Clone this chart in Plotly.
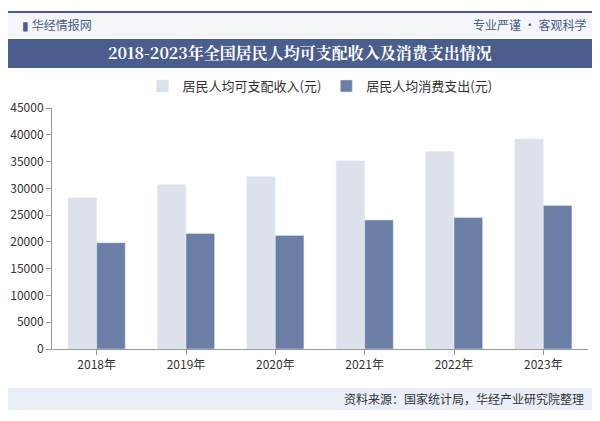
import plotly.graph_objects as go

years = ["2018年", "2019年", "2020年", "2021年", "2022年", "2023年"]
income = [28228, 30733, 32189, 35128, 36883, 39218]
consumption = [19853, 21559, 21210, 24100, 24538, 26796]

font = "Noto Sans CJK SC"
W, H = 600, 421
L, R, T, B = 52, 12, 108, 72
pw, ph = W - L - R, H - T - B


def px(x):
    return (x - L) / pw


def py(y):
    return (H - B - y) / ph


fig = go.Figure()
fig.add_bar(x=years, y=income, name="居民人均可支配收入(元)", marker_color="#dde1ec")
fig.add_bar(x=years, y=consumption, name="居民人均消费支出(元)", marker_color="#6b7fa6")


def note(text, x, y, anchor, size, color, family=font):
    return dict(text=text, xref="paper", yref="paper", x=px(x), y=py(y),
                xanchor=anchor, yanchor="middle", showarrow=False,
                font=dict(size=size, color=color, family=family))


fig.update_layout(
    width=W, height=H,
    paper_bgcolor="white", plot_bgcolor="white",
    font=dict(family=font, size=12, color="#333"),
    margin=dict(l=L, r=R, t=T, b=B, autoexpand=False),
    barmode="group", bargap=0.36, bargroupgap=0,
    legend=dict(orientation="h", x=0.5, xanchor="center", y=py(86), yanchor="middle",
                font=dict(size=13, color="#333")),
    xaxis=dict(showline=True, linecolor="#999", ticks="outside", tickcolor="#999",
               ticklen=5, tickfont=dict(size=12, color="#333")),
    yaxis=dict(range=[0, 45000], dtick=5000, tickformat="d", showgrid=False, showline=True,
               linecolor="#999", ticks="outside", tickcolor="#999", ticklen=5,
               tickfont=dict(size=12, color="#333")),
    shapes=[
        dict(type="rect", xref="paper", yref="paper", x0=px(8), x1=px(592),
             y0=py(37), y1=py(12), fillcolor="#f4f6fa", line_width=0, layer="below"),
        dict(type="line", xref="paper", yref="paper", x0=px(8), x1=px(592),
             y0=py(12), y1=py(12), line=dict(color="#4a5d8c", width=2)),
        dict(type="rect", xref="paper", yref="paper", x0=px(8), x1=px(592),
             y0=py(68), y1=py(39), fillcolor="#4a5d8c", line_width=0),
        dict(type="rect", xref="paper", yref="paper", x0=px(8), x1=px(592),
             y0=py(410), y1=py(388), fillcolor="#e9eef7", line_width=0, layer="below"),
    ],
    annotations=[
        note("<b>2018-2023年全国居民人均可支配收入及消费支出情况</b>", 300, 53, "center", 16,
             "white", "Noto Serif CJK SC, " + font),
        note("▮ 华经情报网", 20, 25, "left", 12, "#4a5d8c"),
        note("专业严谨 • 客观科学", 588, 25, "right", 12, "#4a5d8c"),
        note("资料来源：国家统计局，华经产业研究院整理", 586, 398, "right", 12, "#333"),
    ],
)

fig.write_html("out.html", config={"displayModeBar": False},
               post_script="document.body.style.margin='0';")
